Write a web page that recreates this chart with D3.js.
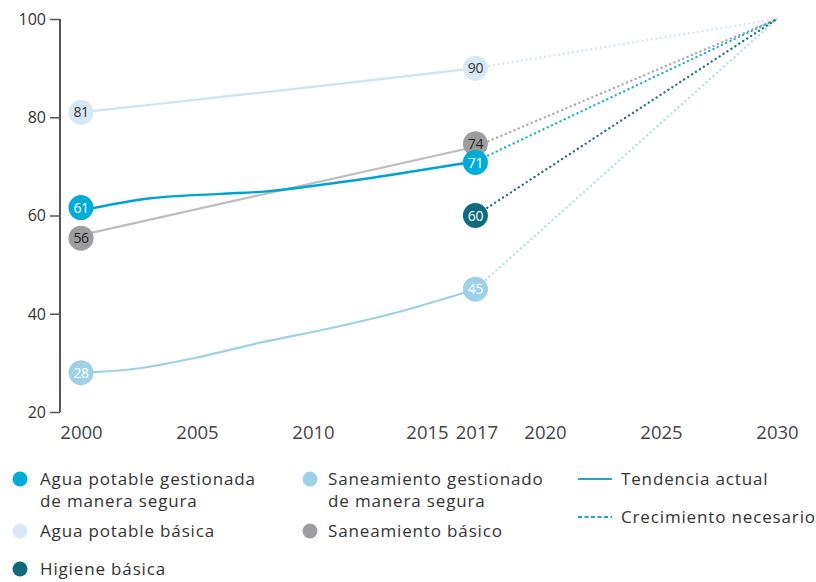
<!DOCTYPE html>
<html>
<head>
<meta charset="utf-8">
<script src="https://cdn.jsdelivr.net/npm/d3@7"></script>
<style>
  html, body { margin: 0; padding: 0; background: #fff; }
  svg { display: block; }
  .tick text { font-family: "Open Sans", sans-serif; }
  .legend text { font-family: "Open Sans", sans-serif; letter-spacing: 0.85px; }
</style>
</head>
<body>
<svg id="chart" width="816" height="582"></svg>
<script>
// Series observed from 2000 to 2017 (percent of population)
const aguaGestionada   = [[2000, 61], [2003, 63.5], [2006, 64.4], [2008, 64.9], [2010.6, 66.4], [2013.4, 68.3], [2017, 71]];
const aguaBasica       = [[2000, 81], [2005, 83.6], [2010, 86.2], [2017, 90]];
const saneamientoGest  = [[2000, 28], [2002, 28.6], [2004.9, 31], [2007.7, 34.1], [2010.6, 36.9], [2013.4, 40], [2017, 45]];
const saneamientoBasico = [[2000, 56], [2017, 74]];
const higieneBasica    = [[2017, 60]];

const seriesColors = ["#00ACD8", "#D6E9F5", "#9CD1E6", "#9D9D9F", "#0E6A7E"];
const labelColors  = ["#ffffff", "#333333", "#ffffff", "#222222", "#ffffff"];
const lineColors   = ["#00A3CF", "#CCE3F0", "#9CD1E6", "#BDBDBF", "#0E6A7E"];
const dotColors    = ["#1AAFD3", "#D3E7F3", "#B3DCEB", "#A5A5A7", "#1E6F80"];

const targetYear = 2030;
const targetValue = 100;

const yTicks = [20, 40, 60, 80, 100];
const xTicks = [2000, 2005, 2010, 2015, 2017, 2020, 2025, 2030];

const svg = d3.select("#chart");
const x = d3.scaleLinear().domain([2000, 2030]).range([81, 777]);
const y = d3.scaleLinear().domain([20, 100]).range([412, 19]);

// y axis
const yAxis = svg.append("g")
  .attr("transform", "translate(60,0)")
  .call(d3.axisLeft(y).tickValues(yTicks).tickSize(10).tickPadding(4));
yAxis.select(".domain").attr("stroke", "#555").attr("stroke-width", 2).attr("d", "M0," + y(20) + "V" + y(100));
yAxis.selectAll(".tick line").attr("stroke", "#555").attr("stroke-width", 1.5);
yAxis.selectAll(".tick text").attr("font-size", 16).attr("fill", "#333").attr("dy", "0.34em");

// x axis (labels only); 2015 and 2017 sit close, so 2015 shifts a little left
const xAxis = svg.append("g")
  .attr("transform", "translate(0,426)")
  .call(d3.axisBottom(x).tickValues(xTicks).tickFormat(d3.format("d")).tickSize(0).tickPadding(0));
xAxis.select(".domain").remove();
xAxis.selectAll(".tick text").attr("font-size", 18.5).attr("fill", "#444").attr("dy", "0.71em")
  .attr("dx", d => d === 2015 ? -2 : (d === 2017 ? 1 : 0));

const allSeries = [aguaGestionada, aguaBasica, saneamientoGest, saneamientoBasico, higieneBasica];

// dotted projections to the 2030 target
const dotted = svg.append("g");
allSeries.forEach((s, i) => {
  const last = s[s.length - 1];
  dotted.append("line")
    .attr("x1", x(last[0])).attr("y1", y(last[1]))
    .attr("x2", x(targetYear)).attr("y2", y(targetValue))
    .attr("stroke", dotColors[i])
    .attr("stroke-width", 2.3)
    .attr("stroke-linecap", "round")
    .attr("stroke-dasharray", "0.1 4.6");
});

// observed trend lines
const line = d3.line().x(d => x(d[0])).y(d => y(d[1])).curve(d3.curveMonotoneX);
[1, 2, 3, 0].forEach(i => {
  svg.append("path")
    .datum(allSeries[i])
    .attr("d", line)
    .attr("fill", "none")
    .attr("stroke", lineColors[i])
    .attr("stroke-width", i === 0 ? 2.4 : 2.2);
});

// endpoint markers with values; close pairs are nudged apart vertically
const nudge = { "0-2000": -3, "3-2000": 3, "3-2017": -3, "0-2017": 1 };
const markers = svg.append("g");
[1, 3, 0, 2, 4].forEach(i => {
  const s = allSeries[i];
  const pts = s.length > 1 ? [s[0], s[s.length - 1]] : [s[0]];
  pts.forEach(p => {
    const dy = nudge[i + "-" + p[0]] || 0;
    const g = markers.append("g").attr("transform", `translate(${x(p[0])},${y(p[1]) + dy})`);
    g.append("circle").attr("r", 12.5).attr("fill", seriesColors[i]);
    g.append("text")
      .attr("text-anchor", "middle").attr("dy", "0.36em")
      .attr("font-family", "Open Sans, sans-serif")
      .attr("font-size", 14).attr("letter-spacing", -0.4)
      .attr("fill", labelColors[i])
      .text(d3.format("d")(p[1]));
  });
});

// legend
const legend = svg.append("g").attr("class", "legend")
  .attr("font-size", 17).attr("fill", "#333");
const legendItems = [
  { i: 0, cx: 20, tx: 40, lines: ["Agua potable gestionada", "de manera segura"], y: 479 },
  { i: 1, cx: 20, tx: 40, lines: ["Agua potable básica"], y: 531 },
  { i: 4, cx: 20, tx: 40, lines: ["Higiene básica"], y: 569 },
  { i: 2, cx: 310, tx: 328, lines: ["Saneamiento gestionado", "de manera segura"], y: 479 },
  { i: 3, cx: 310, tx: 328, lines: ["Saneamiento básico"], y: 531 }
];
legendItems.forEach(it => {
  legend.append("circle").attr("cx", it.cx).attr("cy", it.y).attr("r", 7.5).attr("fill", seriesColors[it.i]);
  it.lines.forEach((t, k) => {
    legend.append("text").attr("x", it.tx).attr("y", it.y + k * 22).attr("dy", "0.35em").text(t);
  });
});
legend.append("line").attr("x1", 578).attr("x2", 612).attr("y1", 479).attr("y2", 479)
  .attr("stroke", "#1AA7C8").attr("stroke-width", 2.2);
legend.append("text").attr("x", 621).attr("y", 479).attr("dy", "0.35em").text("Tendencia actual");
legend.append("line").attr("x1", 578).attr("x2", 612).attr("y1", 517).attr("y2", 517)
  .attr("stroke", "#1AA7C8").attr("stroke-width", 2).attr("stroke-dasharray", "4 2.5");
legend.append("text").attr("x", 621).attr("y", 517).attr("dy", "0.35em").text("Crecimiento necesario");
</script>
</body>
</html>
